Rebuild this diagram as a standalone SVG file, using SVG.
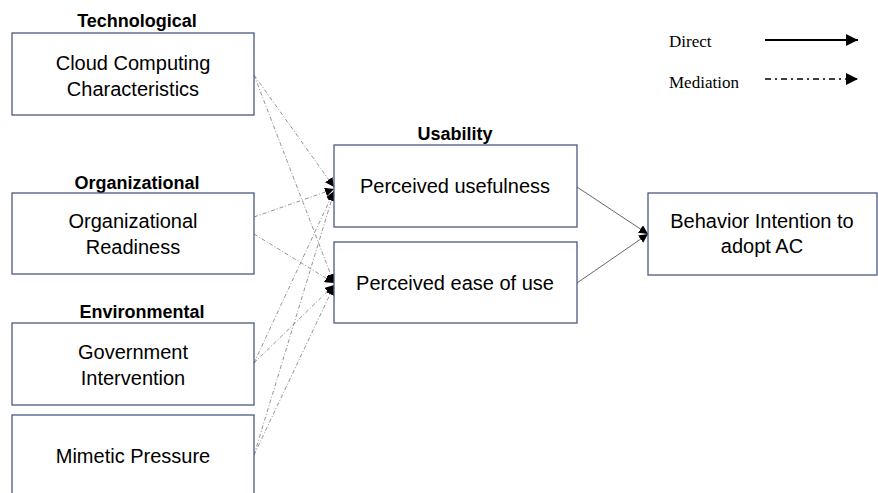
<svg xmlns="http://www.w3.org/2000/svg" width="878" height="493" viewBox="0 0 878 493">
<style>
.box{fill:#fff;stroke:#4a5b80;stroke-width:1.3}
.t{font-family:"Liberation Sans",Arial,sans-serif;font-size:20px;fill:#000;text-anchor:middle}
.h{font-family:"Liberation Sans",Arial,sans-serif;font-size:18px;font-weight:bold;fill:#000;text-anchor:middle}
.lg{font-family:"Liberation Serif","Times New Roman",serif;font-size:17px;fill:#000}
.med{fill:none;stroke:#888;stroke-width:0.9;stroke-dasharray:4 2 1 2}
.dir{fill:none;stroke:#555;stroke-width:0.9}
</style>
<defs>
<marker id="ah" viewBox="0 0 10 10" refX="10" refY="5" markerWidth="9" markerHeight="9" markerUnits="userSpaceOnUse" orient="auto"><path d="M0,0 L10,5 L0,10 Z" fill="#000"/></marker>
<marker id="ahL" viewBox="0 0 10 10" refX="10" refY="5" markerWidth="12" markerHeight="12" markerUnits="userSpaceOnUse" orient="auto"><path d="M0,0 L10,5 L0,10 Z" fill="#000"/></marker>
</defs>
<g id="connectors">
<line class="med" x1="254" y1="75" x2="334" y2="187" marker-end="url(#ah)"/>
<line class="med" x1="254" y1="75" x2="334" y2="283" marker-end="url(#ah)"/>
<line class="med" x1="254" y1="217" x2="334" y2="189" marker-end="url(#ah)"/>
<line class="med" x1="254" y1="234" x2="334" y2="283" marker-end="url(#ah)"/>
<line class="med" x1="254" y1="363" x2="334" y2="191" marker-end="url(#ah)"/>
<line class="med" x1="254" y1="363" x2="334" y2="285" marker-end="url(#ah)"/>
<line class="med" x1="254" y1="455" x2="334" y2="192" marker-end="url(#ah)"/>
<line class="med" x1="254" y1="455" x2="334" y2="286" marker-end="url(#ah)"/>
<line class="dir" x1="577" y1="187" x2="648" y2="234" marker-end="url(#ah)"/>
<line class="dir" x1="577" y1="283" x2="648" y2="234" marker-end="url(#ah)"/>
</g>
<g id="tech">
<text class="h" x="137" y="27">Technological</text>
<rect class="box" x="12" y="33" width="242" height="82"/>
<text class="t" x="133" y="70">Cloud Computing</text>
<text class="t" x="133" y="96">Characteristics</text>
</g>
<g id="org">
<text class="h" x="137" y="189">Organizational</text>
<rect class="box" x="12" y="193" width="242" height="81"/>
<text class="t" x="133" y="228">Organizational</text>
<text class="t" x="133" y="254">Readiness</text>
</g>
<g id="env">
<text class="h" x="142" y="318">Environmental</text>
<rect class="box" x="12" y="323" width="242" height="82"/>
<text class="t" x="133" y="359">Government</text>
<text class="t" x="133" y="385">Intervention</text>
</g>
<g id="mim">
<rect class="box" x="12" y="415" width="242" height="85"/>
<text class="t" x="133" y="463">Mimetic Pressure</text>
</g>
<g id="usability">
<text class="h" x="455" y="140">Usability</text>
</g>
<g id="pu">
<rect class="box" x="334" y="145" width="243" height="82"/>
<text class="t" x="455" y="193">Perceived usefulness</text>
</g>
<g id="peou">
<rect class="box" x="334" y="242" width="243" height="81"/>
<text class="t" x="455" y="290">Perceived ease of use</text>
</g>
<g id="bi">
<rect class="box" x="648" y="193" width="229" height="82"/>
<text class="t" x="762" y="228">Behavior Intention to</text>
<text class="t" x="762" y="253">adopt AC</text>
</g>
<g id="legend">
<text class="lg" x="669" y="47">Direct</text>
<line x1="765" y1="40" x2="858" y2="40" stroke="#000" stroke-width="2" marker-end="url(#ahL)"/>
<text class="lg" x="669" y="88">Mediation</text>
<line x1="765" y1="79" x2="858" y2="79" stroke="#000" stroke-width="1.6" stroke-dasharray="6 4 2 4" marker-end="url(#ahL)"/>
</g>
</svg>
